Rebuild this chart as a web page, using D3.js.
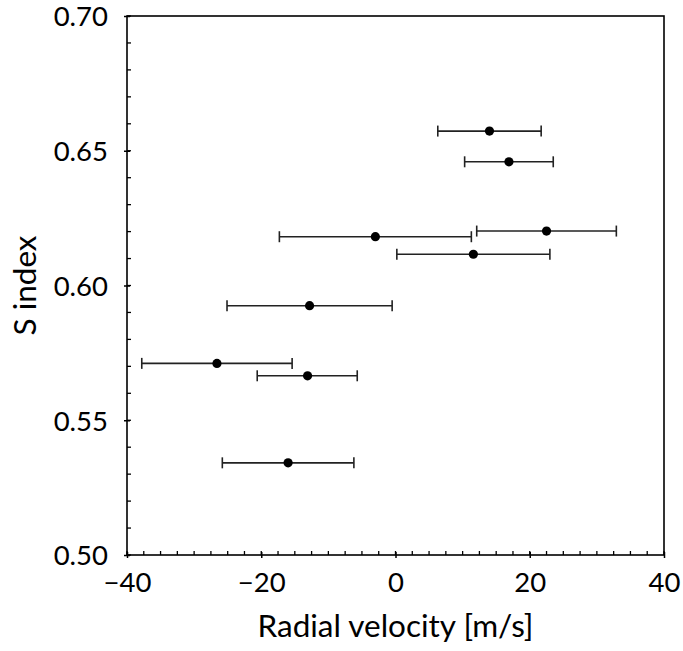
<!DOCTYPE html>
<html>
<head>
<meta charset="utf-8">
<script src="https://cdn.jsdelivr.net/npm/d3@7"></script>
<style>
  html, body { margin: 0; padding: 0; background: #fff; }
  svg { display: block; }
  text { font-family: "Lato", "DejaVu Sans", sans-serif; fill: #000; }
</style>
</head>
<body>
<svg id="chart" width="683" height="651"></svg>
<script>
// Data
const radialVelocity = [14.0, 16.9, 22.5, 11.6, -3.0, -12.8, -26.6, -13.1, -16.0];
const rvErrLow       = [7.7, 6.6, 10.4, 11.4, 14.3, 12.3, 11.2, 7.5, 9.8];
const rvErrHigh      = [7.7, 6.6, 10.4, 11.4, 14.3, 12.3, 11.2, 7.4, 9.8];
const sIndex         = [0.6573, 0.6459, 0.6202, 0.6116, 0.6181, 0.5925, 0.5711, 0.5665, 0.5342];
const xTicks = [-40, -20, 0, 20, 40];
const yTicks = [0.50, 0.55, 0.60, 0.65, 0.70];
const xLabel = "Radial velocity [m/s]";
const yLabel = "S index";

const svg = d3.select("#chart");
const margin = { left: 127, right: 19, top: 16, bottom: 96 };
const W = 683, H = 651;
const x = d3.scaleLinear().domain([-40, 40]).range([margin.left, W - margin.right]);
const y = d3.scaleLinear().domain([0.50, 0.70]).range([H - margin.bottom, margin.top]);

const fmtX = d => (d < 0 ? "\u2212" + Math.abs(d) : String(d));
const fmtY = d3.format(".2f");

// Minor ticks (inward)
const xMinor = d3.range(-40, 40.001, 2.5);
const yMinor = d3.range(0.50, 0.70001, 0.01);

const g = svg.append("g");

g.selectAll(".xminor").data(xMinor).join("line")
  .attr("x1", d => x(d)).attr("x2", d => x(d))
  .attr("y1", y(0.5)).attr("y2", y(0.5) - 4)
  .attr("stroke", "#000").attr("stroke-width", 1.3);
g.selectAll(".yminor").data(yMinor).join("line")
  .attr("y1", d => y(d)).attr("y2", d => y(d))
  .attr("x1", x(-40)).attr("x2", x(-40) + 4)
  .attr("stroke", "#000").attr("stroke-width", 1.3);

const tickFont = 27.5;
const xAxis = d3.axisBottom(x).tickValues(xTicks).tickFormat(fmtX).tickSize(3).tickPadding(14);
const xg = svg.append("g").attr("transform", `translate(0,${y(0.5)})`).call(xAxis);
xg.select(".domain").remove();
xg.selectAll(".tick line").attr("y1", -3).attr("y2", 3).attr("stroke", "#000").attr("stroke-width", 1.5);
xg.selectAll(".tick text").attr("font-size", tickFont).attr("font-family", "Lato, 'DejaVu Sans', sans-serif").attr("fill", "#000");

const yAxis = d3.axisLeft(y).tickValues(yTicks).tickFormat(fmtY).tickSize(3).tickPadding(16);
const yg = svg.append("g").attr("transform", `translate(${x(-40)},0)`).call(yAxis);
yg.select(".domain").remove();
yg.selectAll(".tick line").attr("x1", -3).attr("x2", 3).attr("stroke", "#000").attr("stroke-width", 1.5);
yg.selectAll(".tick text").attr("font-size", tickFont).attr("font-family", "Lato, 'DejaVu Sans', sans-serif").attr("fill", "#000").attr("dy", "0.36em");

// Frame
svg.append("rect")
  .attr("x", x(-40)).attr("y", y(0.70))
  .attr("width", x(40) - x(-40)).attr("height", y(0.50) - y(0.70))
  .attr("fill", "none").attr("stroke", "#000").attr("stroke-width", 1.6);

// Data
const data = radialVelocity.map((v, i) => ({ v, lo: v - rvErrLow[i], hi: v + rvErrHigh[i], s: sIndex[i] }));
const pts = svg.append("g");
pts.selectAll(".eb").data(data).join("line")
  .attr("x1", d => x(d.lo)).attr("x2", d => x(d.hi))
  .attr("y1", d => y(d.s)).attr("y2", d => y(d.s))
  .attr("stroke", "#222").attr("stroke-width", 1.6);
pts.selectAll(".capl").data(data).join("line")
  .attr("x1", d => x(d.lo)).attr("x2", d => x(d.lo))
  .attr("y1", d => y(d.s) - 5.5).attr("y2", d => y(d.s) + 5.5)
  .attr("stroke", "#222").attr("stroke-width", 1.6);
pts.selectAll(".caph").data(data).join("line")
  .attr("x1", d => x(d.hi)).attr("x2", d => x(d.hi))
  .attr("y1", d => y(d.s) - 5.5).attr("y2", d => y(d.s) + 5.5)
  .attr("stroke", "#222").attr("stroke-width", 1.6);
pts.selectAll("circle").data(data).join("circle")
  .attr("cx", d => x(d.v)).attr("cy", d => y(d.s)).attr("r", 4.6)
  .attr("fill", "#000");

// Axis labels
svg.append("text")
  .attr("x", (x(-40) + x(40)) / 2).attr("y", 637)
  .attr("text-anchor", "middle").attr("font-size", 31.5)
  .text(xLabel);
svg.append("text")
  .attr("transform", `translate(36,${(y(0.5) + y(0.7)) / 2}) rotate(-90)`)
  .attr("text-anchor", "middle").attr("font-size", 31.5)
  .text(yLabel);
</script>
</body>
</html>
